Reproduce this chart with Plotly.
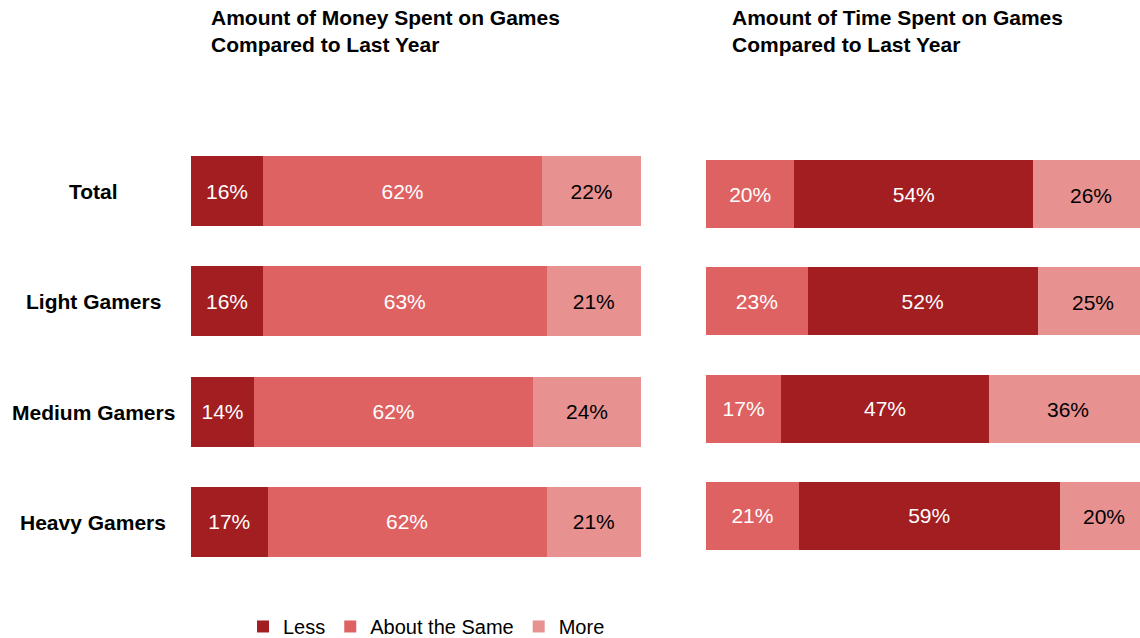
import plotly.graph_objects as go

# Survey groups and answer options
groups = ["Total", "Light Gamers", "Medium Gamers", "Heavy Gamers"]
answers = ["Less", "About the Same", "More"]

# Money spent on games compared to last year (%)
money_less = [16, 16, 14, 17]
money_same = [62, 63, 62, 62]
money_more = [22, 21, 24, 21]

# Time spent on games compared to last year (%)
time_less = [20, 23, 17, 21]
time_same = [54, 52, 47, 59]
time_more = [26, 25, 36, 20]

titles = ["Amount of Money Spent on Games<br>Compared to Last Year",
          "Amount of Time Spent on Games<br>Compared to Last Year"]

DARK = "#A21E21"
MID = "#DE6262"
LIGHT = "#E89191"
FONT = "Arial, Liberation Sans, sans-serif"

W, H = 1140, 638

fig = go.Figure()

money_colors = [DARK, MID, LIGHT]
time_colors = [MID, DARK, LIGHT]
text_colors = ["white", "white", "black"]

for i, (name, vals) in enumerate(zip(answers, [money_less, money_same, money_more])):
    fig.add_trace(go.Bar(
        y=groups, x=vals, orientation="h", name=name,
        marker=dict(color=money_colors[i], line=dict(width=0)),
        width=0.635,
        text=[f"{v}%" for v in vals], textposition="inside",
        insidetextanchor="middle", textangle=0,
        textfont=dict(family=FONT, size=21, color=text_colors[i]),
        xaxis="x", yaxis="y", showlegend=True, hoverinfo="skip",
    ))

time_series = [time_less, time_same, time_more]
for i, (name, vals) in enumerate(zip(answers, time_series)):
    last = i == len(time_series) - 1
    fig.add_trace(go.Bar(
        y=groups, x=vals, orientation="h", name=name,
        marker=dict(color=time_colors[i], line=dict(width=0)),
        width=0.634,
        text=None if last else [f"{v}%" for v in vals],
        textposition="none" if last else "inside",
        insidetextanchor="middle", textangle=0,
        textfont=dict(family=FONT, size=21, color=text_colors[i]),
        xaxis="x2", yaxis="y2", showlegend=False, hoverinfo="skip",
    ))

# The time panel runs past the right page edge, so the labels of its last
# segment are placed at the segment centres as annotations.
for g, a, b, c in zip(groups, time_less, time_same, time_more):
    fig.add_annotation(text=f"{c}%", x=a + b + c / 2, y=g, xref="x2", yref="y2",
                       xanchor="center", yanchor="middle", showarrow=False, yshift=-1,
                       font=dict(family=FONT, size=21, color="black"))

hidden = dict(showgrid=False, zeroline=False, showticklabels=False, showline=False, ticks="")

fig.update_layout(
    width=W, height=H,
    margin=dict(l=0, r=0, t=0, b=0, autoexpand=False),
    paper_bgcolor="white", plot_bgcolor="white",
    barmode="stack",
    font=dict(family=FONT, size=20, color="black"),
    uniformtext=dict(minsize=21, mode="show"),
    xaxis=dict(domain=[191 / W, 641 / W], range=[0, 100], **hidden),
    xaxis2=dict(domain=[706 / W, 1.0], range=[0, 100 * 434 / 442], **hidden),
    yaxis=dict(domain=[1 - 577 / H, 1 - 136 / H], anchor="x",
               categoryorder="array", categoryarray=groups,
               range=[3.5, -0.5], **hidden),
    yaxis2=dict(domain=[1 - 569.5 / H, 1 - 140.5 / H], anchor="x2",
                categoryorder="array", categoryarray=groups,
                range=[3.5, -0.5], **hidden),
    legend=dict(orientation="h", x=243 / W, y=-0.0125, xanchor="left", yanchor="bottom",
                font=dict(family=FONT, size=20), itemwidth=30,
                traceorder="normal", bgcolor="rgba(0,0,0,0)"),
)

# Group labels to the left of the first panel
centers = [191, 301.5, 412, 522]
for g, c in zip(groups, centers):
    fig.add_annotation(text=f"<b>{g}</b>", x=93 / W, y=1 - c / H,
                       xref="paper", yref="paper", xanchor="center", yanchor="middle",
                       showarrow=False, font=dict(family=FONT, size=21, color="black"))

# Panel titles
for t, x0 in zip(titles, [209, 730]):
    fig.add_annotation(text=f"<b>{t}</b>", x=x0 / W, y=1 - 4 / H,
                       xref="paper", yref="paper", xanchor="left", yanchor="top",
                       align="left", showarrow=False,
                       font=dict(family=FONT, size=21, color="black"))

fig.write_html("out.html")
